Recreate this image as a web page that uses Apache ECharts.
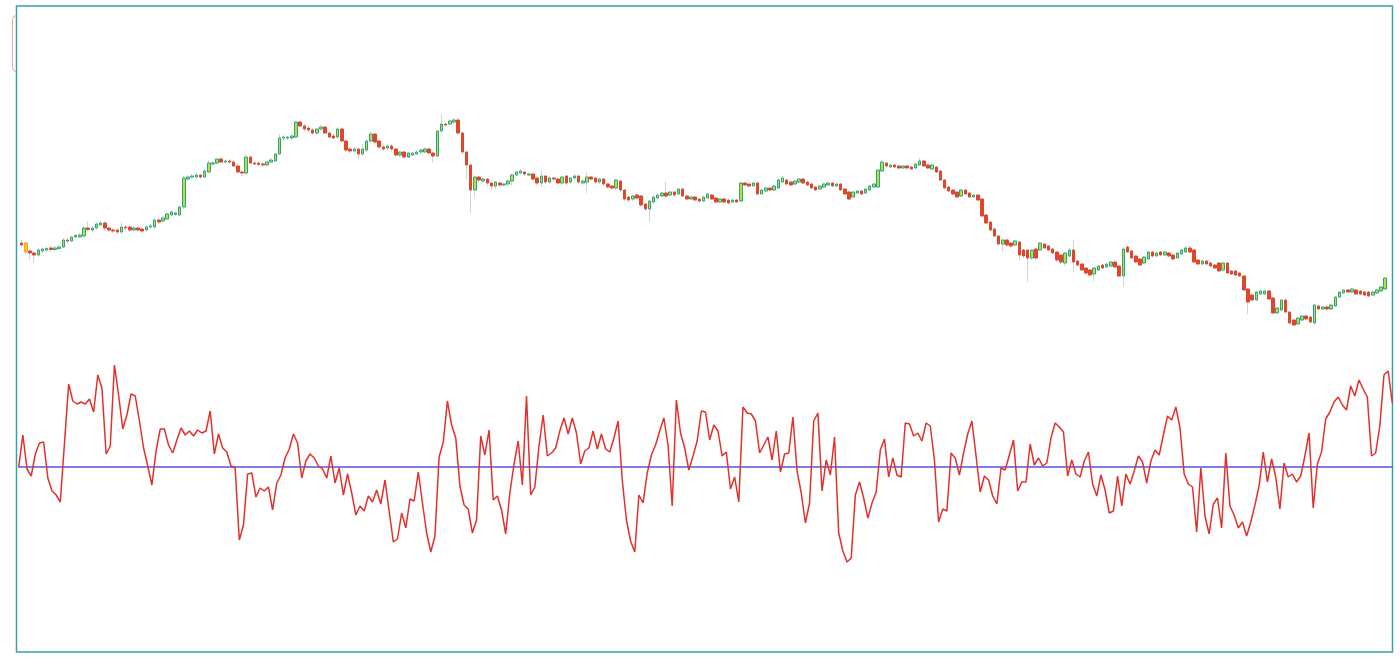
<!DOCTYPE html>
<html>
<head>
<meta charset="utf-8">
<script src="https://cdn.jsdelivr.net/npm/echarts@6/dist/echarts.min.js"></script>
<style>
  html, body { margin: 0; padding: 0; background: #fff; }
  #main { width: 1400px; height: 658px; }
</style>
</head>
<body>
<div id="main"></div>
<script>
// candles: [open, close, low, high]
const candles = [
  [409,407,405,412],[409,400,398,410],[401,399,392,403],[399,397,389,401],[397,402,395,404],
  [401,403,399,405],[402,403.5,400,406],[404,402.5,400,406],[402.5,404,401,406],[403.5,405,402,407],
  [405,412,404,414],[412,411,409,414],[411,415,410,416],[415,416.5,414,418],[415,417,414,419],
  [416,424,415,426],[424,422.5,421,431],[422,424,420,426],[424,428,423,430],[427,429,426,431],
  [429,424,421,431],[424,422,420,425],[422,421,419,424],[422,420,418,424],[420,425,418,430],
  [425,424,422,427],[425,422,420,427],[422,424,421,426],[424,422,420,426],[423,421,419,425],
  [422,425,421,427],[425,426,424,428],[425,432,424,434],[432,430,428,435],[431,434,429,436],
  [433,438,432,440],[437,440,436,442],[437.5,439,436,441],[437,445,436,447],[445,474,443,476],
  [473,475,471,477],[475,476,474,478],[475,477,473,479],[477,475,473,478],[475,481,474,483],
  [480,489,479,492],[488,489,486,491],[489,493,488,494],[493,490,489,495],[490,491,489,493],
  [491,490,488,493],[490,486,485,492],[486,480,478,488],[480,479,476,482],[479,495,477,498],
  [495,489,488,496],[489,488,487,491],[489,487.5,486,490],[488,487,485,490],[487,490,486,491],
  [490,492,489,494],[491,498,490,499],[498,514,497,518],[514,515,511,517],[514,515,512,516],
  [514,516,512,518],[515,530,514,531],[530,526,525,531],[526,523,521,528],[524,522,520,526],
  [522,519,517,524],[519,523,517,524],[523,525,521,527],[525,519,518,526],[519,515,514,521],
  [516,514,513,518],[515,523,513,525],[523,511,510,525],[511,502,500,512],[503,501,498,505],
  [501,503,499,505],[503,498,493,504],[498,503,496,508],[502,511,500,512],[511,518,509,520],
  [518,510,508,519],[511,505,504,512],[505,503,501,507],[504,506,502,508],[506,503,500,508],
  [503,497,495,504],[497,500,495,501],[500,495,493,501],[495,499,494,500],[497,499,496,500],
  [498,500,497,502],[500,502,498,503],[500,503,499,505],[503,499,498,504],[499,496,489,500],
  [496,521,494,522],[521,528,520,538],[528,527,525,529],[528,531,527,533],[530,532,528,534],
  [532,519,517,534],[519,500,498,520],[500,487,472,501],[487,462,439,488],[462,475,455,476],
  [475,472,469,476],[471,473,469,474],[473,469,466,474],[469,466,462,470],[466,470,463,471],
  [469,467,465,470],[467,468,466,469],[468,471,467,473],[471,477,466,478],[477,480,476,481],
  [479,481,478,483],[480,478,476,481],[477,478,476,480],[478,473,471,479],[474,469,467,475],
  [469,476,465,481],[476,470,468,477],[470,474,468,476],[474,473,471,475],[473,469,467,474],
  [469,475,467,476],[476,469,467,477],[470,474,468,475],[474,476,472,478],[476,470,468,477],
  [469,471,467,472],[470,475,459,480],[475,473,471,476],[474,470,468,475],[470,473,468,474],
  [473,468,466,474],[468,465,463,469],[466,464,462,467],[464,472,462,473],[471,462,460,472],
  [462,453,451,463],[455,452,450,456],[453,456,451,457],[457,454,452,458],[456,447,445,457],
  [448,443,441,449],[443,451,430,452],[450,455,448,456],[454,457,453,458],[456,459,455,460],
  [459,456,454,471],[457,460,456,461],[460,457,455,461],[458,463,457,464],[463,456,455,464],
  [456,453,452,457],[453,455,452,456],[455,452,451,456],[453,451,450,454],[451,455,450,456],
  [454,458,453,459],[457,453,452,458],[454,450,449,455],[450,453,449,454],[453,450,449,454],
  [452,449,448,453],[450,452,449,453],[452,450,449,453],[451,469,450,470],[469,467,466,470],
  [468,466,465,469],[466,469,465,470],[469,458,457,470],[458,462,457,463],[461,464,460,465],
  [464,462,461,465],[462,466,461,467],[464,472,463,474],[470,474,469,476],[472,468,467,473],
  [470,467,466,471],[468,471,467,472],[470,473,469,474],[473,469,468,474],[470,467,466,471],
  [468,464,463,469],[465,462,461,466],[463,466,462,467],[465,468,464,469],[467,469,466,470],
  [469,466,465,470],[466,468,465,469],[468,462,461,469],[463,458,457,464],[460,453,452,461],
  [455,460,454,461],[459,461,458,462],[461,458,457,462],[459,463,458,464],[462,466,461,467],
  [465,468,464,469],[465,482,464,483],[481,490,480,492],[489,486,485,490],[485,487,484,488],
  [487,485,484,488],[486,484,483,487],[484,486,483,487],[486,484,483,487],[485,483,482,486],
  [484,488,483,489],[487,491,486,494],[491,486,485,492],[487,484,483,488],[483,487,482,488],
  [485,480,479,486],[481,472,471,482],[472,464,463,473],[465,461,460,466],[462,458,457,463],
  [460,455,454,461],[456,462,455,463],[462,458,457,463],[459,455,454,460],[455,457,454,458],
  [457,452,451,458],[453,436,435,454],[437,429,428,438],[430,422,421,431],[423,416,415,424],
  [416,408,406,417],[408,412,400,413],[412,407,405,413],[409,406,404,410],[407,411,406,412],
  [410,397,392,411],[402,396,394,403],[402,394,370,403],[394,402,392,403],[403,394,392,404],
  [402,409,401,410],[408,404,403,409],[406,402,401,407],[403,399,398,404],[400,392,390,401],
  [397,390,388,398],[389,399,386,400],[396,402,395,404],[402,390,380,412],[391,387,386,392],
  [388,382,381,389],[384,379,377,385],[382,377,375,383],[378,384,371,385],[382,386,381,387],
  [387,384,383,388],[385,388,384,389],[386,390,385,391],[390,385,384,391],[386,376,375,387],
  [376,403,365,405],[405,400,399,406],[401,394,393,402],[396,390,389,397],[393,387,386,394],
  [389,395,388,396],[393,400,392,401],[400,396,395,401],[396,399,395,400],[400,397,396,401],
  [397,400,396,401],[399,396,395,400],[397,393,392,398],[394,399,393,400],[398,402,397,403],
  [400,404,399,406],[404,400,399,406],[402,390,389,403],[392,388,387,393],[388,391,387,392],
  [391,388,387,392],[389,386,385,390],[387,384,383,388],[389,381,380,390],[382,389,381,390],
  [389,379,378,390],[381,378,377,382],[381,377,376,382],[379,376,375,380],[376,362,361,377],
  [363,350,338,364],[357,352,351,358],[352,360,351,361],[358,361,357,362],[358,361,357,363],
  [361,353,352,362],[354,339,338,355],[339,344,338,345],[342,352,341,353],[352,340,339,353],
  [340,329,328,341],[332,327,326,333],[328,334,327,335],[332,336,331,337],[336,333,332,337],
  [335,330,329,336],[329,347,328,348],[346,343,342,347],[343,345,342,346],[345,343,342,346],
  [343,347,342,348],[346,355,345,356],[355,360,354,361],[359,362,358,363],[362,360,359,363],
  [360,363,359,364],[362,358,357,363],[361,358,357,362],[360,357,356,361],[360,356,355,361],
  [357,360,356,361],[359,362,358,363],[361,365,360,366],[363,374,362,375]
];

// oscillator under the candles
const osc = [
  0,32,-2,-9,13,24,25,-11,-24,-28,-35,24,83,66,63,65,63,68,55,92,
  79,13,21,102,72,38,52,73,71,46,19,1,-18,16,38,38,22,14,27,39,
  32,36,31,37,34,36,56,13,33,19,15,1,-1,-73,-58,-7,-6,-30,-21,-24,
  -20,-43,-16,-8,9,18,33,24,-11,6,13,9,1,-2,-11,11,-16,-1,-28,-7,
  -26,-48,-39,
  -44,-29,-35,-23,-37,-13,-44,-75,-72,-46,-61,-32,-34,-5,-36,-66,-85,-69,10,25,
  66,42,29,-19,-38,-42,-66,-53,31,12,37,-33,-29,-43,-67,-26,3,26,-18,71,
  -28,-20,21,52,11,14,19,36,49,33,49,34,3,16,19,36,18,33,18,15,
  29,46,-13,-53,-74,-85,-28,-36,-6,12,22,36,49,22,-39,67,34,19,-3,11,
  26,56,
  55,27,42,36,11,15,-22,-10,-35,60,54,53,46,14,22,30,7,36,-5,13,
  14,50,-4,-26,-56,-36,46,54,-24,7,-8,30,-66,-84,-95,-91,-28,-15,-31,-51,
  -36,-25,17,28,-10,9,-8,-10,44,43,31,34,26,44,41,7,-55,-42,-44,14,
  9,-8,14,33,46,11,-25,-9,-13,-29,-37,-1,-3,12,27,-24,-15,-15,23,2,
  9,1,
  4,29,44,40,35,-9,7,-7,-10,6,15,-17,-29,-8,-23,-46,-44,-9,-39,-7,
  -17,-4,11,5,-16,6,17,12,32,51,47,60,39,-7,-17,-20,-65,-1,-49,-67,
  -37,-31,-61,14,-39,-48,-61,-55,-69,-55,-38,-19,15,-15,8,-10,-42,4,-10,-7,
  -15,-9,11,34,-41,3,15,48,55,65,70,62,57,81,71,87,78,70,11,14,
  41,92,96,64
];

const markedCandle = 1;

const candleDays = candles.map((c, i) => i + 1);
const oscDays = osc.map((v, i) => i + 1);

// bodies drawn on top of the grey wicks
const bodies = candles.map((c, i) => {
  const item = { value: [c[0], c[1], Math.min(c[0], c[1]), Math.max(c[0], c[1])] };
  if (i === markedCandle) {
    item.itemStyle = { color: '#f7c815', color0: '#f7c815', borderColor: '#f0a52a', borderColor0: '#f0a52a' };
  }
  return item;
});

const chart = echarts.init(document.getElementById('main'));
chart.setOption({
  animation: false,
  backgroundColor: '#fff',
  graphic: {
    elements: [
      {
        type: 'rect', z: -20,
        shape: { x: 12.5, y: 15.5, width: 20, height: 56, r: 4 },
        style: { fill: '#fff', stroke: '#f2a898', lineWidth: 1 }
      },
      {
        type: 'rect', z: -10,
        shape: { x: 16.5, y: 6, width: 1376, height: 646 },
        style: { fill: '#fff', stroke: '#35a2ad', lineWidth: 1.5 }
      }
    ]
  },
  grid: [
    { left: 19.6, right: 12.7, top: 6, bottom: 6 },
    { left: 18.7, right: 7.7, top: 6, bottom: 6 }
  ],
  xAxis: [
    { type: 'category', gridIndex: 0, data: candleDays, boundaryGap: true, show: false },
    {
      type: 'category', gridIndex: 1, data: oscDays, boundaryGap: false, z: 1,
      // zero line of the oscillator
      axisLine: { show: true, onZero: true, lineStyle: { color: '#5953dc', width: 1.5 } },
      axisTick: { show: false },
      axisLabel: { show: false },
      splitLine: { show: false }
    }
  ],
  yAxis: [
    { type: 'value', gridIndex: 0, min: 0, max: 646, show: false, splitLine: { show: false } },
    { type: 'value', gridIndex: 1, min: -185, max: 461, axisLine: { show: false }, axisTick: { show: false }, axisLabel: { show: false }, splitLine: { show: false } }
  ],
  series: [
    {
      name: 'wick',
      type: 'candlestick',
      xAxisIndex: 0, yAxisIndex: 0,
      barWidth: 1,
      itemStyle: { color: '#d9d9d9', color0: '#d9d9d9', borderColor: '#d4d4d4', borderColor0: '#d4d4d4', borderWidth: 1 },
      data: candles
    },
    {
      name: 'body',
      type: 'candlestick',
      xAxisIndex: 0, yAxisIndex: 0,
      barWidth: 3,
      itemStyle: { color: '#c4dc38', color0: '#e2452b', borderColor: '#25a688', borderColor0: '#e2452b', borderWidth: 1 },
      data: bodies
    },
    {
      name: 'osc',
      type: 'line',
      xAxisIndex: 1, yAxisIndex: 1,
      symbol: 'none',
      lineStyle: { color: '#e3302b', width: 1.5 },
      data: osc
    }
  ]
});
</script>
</body>
</html>
